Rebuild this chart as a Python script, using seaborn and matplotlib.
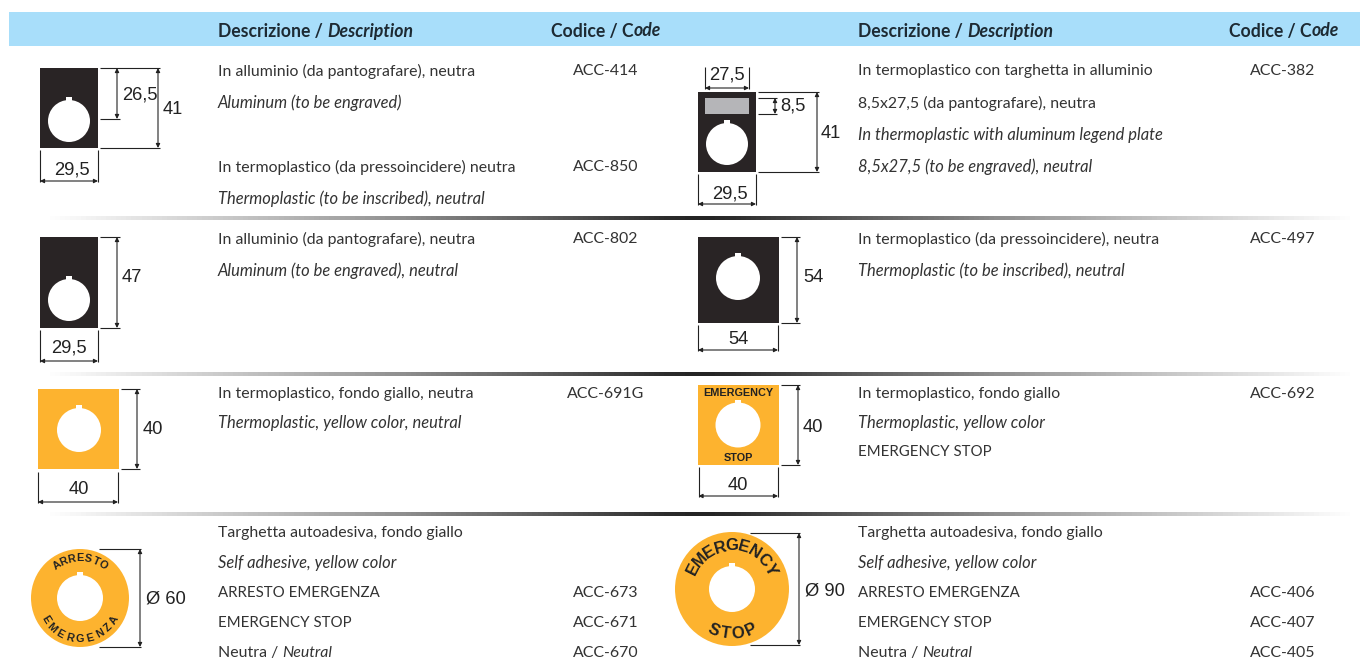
import numpy as np
import matplotlib.pyplot as plt
import seaborn as sns
from matplotlib.colors import LinearSegmentedColormap
from matplotlib.patches import Circle, Rectangle

HEADER_DESC = ["Descrizione / ", "Description"]
HEADER_CODE = ["Codice / C", "ode"]

LEFT_LINES = [
    "In alluminio (da pantografare), neutra",
    "Aluminum (to be engraved)",
    "In termoplastico (da pressoincidere) neutra",
    "Thermoplastic (to be inscribed), neutral",
    "In alluminio (da pantografare), neutra",
    "Aluminum (to be engraved), neutral",
    "In termoplastico, fondo giallo, neutra",
    "Thermoplastic, yellow color, neutral",
    "Targhetta autoadesiva, fondo giallo",
    "Self adhesive, yellow color",
    "ARRESTO EMERGENZA",
    "EMERGENCY STOP",
]
LEFT_ITALIC = [0, 1, 0, 1, 0, 1, 0, 1, 0, 1, 0, 0]
LEFT_Y = [70, 102, 166, 198, 238, 270, 393, 422, 532, 562, 592, 622]

RIGHT_LINES = [
    "In termoplastico con targhetta in alluminio",
    "8,5x27,5 (da pantografare), neutra",
    "In thermoplastic with aluminum legend plate",
    "8,5x27,5 (to be engraved), neutral",
    "In termoplastico (da pressoincidere), neutra",
    "Thermoplastic (to be inscribed), neutral",
    "In termoplastico, fondo giallo",
    "Thermoplastic, yellow color",
    "EMERGENCY STOP",
    "Targhetta autoadesiva, fondo giallo",
    "Self adhesive, yellow color",
    "ARRESTO EMERGENZA",
    "EMERGENCY STOP",
]
RIGHT_ITALIC = [0, 0, 1, 1, 0, 1, 0, 1, 0, 0, 1, 0, 0]
RIGHT_Y = [70, 102, 134, 166, 238, 270, 393, 422, 451, 532, 562, 592, 622]

LEFT_CODES = ["ACC-414", "ACC-850", "ACC-802", "ACC-691G", "ACC-673", "ACC-671", "ACC-670"]
LEFT_CODE_X = [573, 573, 573, 567, 573, 573, 573]
LEFT_CODE_Y = [70, 166, 238, 393, 592, 622, 652]
RIGHT_CODES = ["ACC-382", "ACC-497", "ACC-692", "ACC-406", "ACC-407", "ACC-405"]
RIGHT_CODE_Y = [70, 238, 393, 592, 622, 652]

NEUTRAL = ["Neutra / ", "Neutral"]
RULES_Y = [218, 374, 514]

BLUE = "#A8DEFA"
BLACK = "#292425"
YELLOW = "#FDB32F"
GREY = "#B5B5B8"
TEXT = "#333333"
LINE = "#222222"
BODY_FONT = ["Lato", "Open Sans", "DejaVu Sans"]
DIM_FONT = ["Liberation Sans", "DejaVu Sans"]
BODY_SIZE = 11.4
ITALIC_SIZE = 11.9
CAPS_SIZE = 10.8
HEAD_SIZE = 12.7

sns.set_theme(style="white")
fig = plt.figure(figsize=(13.6, 6.68), dpi=100)
ax = fig.add_axes([0, 0, 1, 1])
ax.set_xlim(0, 1360)
ax.set_ylim(668, 0)
ax.axis("off")


def body(x, y, s, italic=False, weight="normal", size=BODY_SIZE, color=TEXT):
    return ax.text(x, y + 1, s, family=BODY_FONT, style="italic" if italic else "normal",
                   weight=weight, fontsize=size, color=color, va="center", ha="left")


def line_size(s, italic):
    if italic:
        return ITALIC_SIZE
    return CAPS_SIZE if s.isupper() else BODY_SIZE


def body_pair(x, y, parts, weight="normal", size=BODY_SIZE, color=TEXT):
    # seconda parte in corsivo, subito dopo la prima
    first = body(x, y, parts[0], False, weight, size, color)
    fig.canvas.draw()
    x2 = ax.transData.inverted().transform(first.get_window_extent().max)[0]
    body(x2, y, parts[1], True, weight, size, color)


def hline(x0, x1, y):
    ax.plot([x0, x1], [y, y], color=LINE, lw=0.8, solid_capstyle="butt")


def vline(x, y0, y1):
    ax.plot([x, x], [y0, y1], color=LINE, lw=0.8, solid_capstyle="butt")


def arrow(x0, y0, x1, y1):
    ax.annotate("", xy=(x1, y1), xytext=(x0, y0),
                arrowprops=dict(arrowstyle="<|-|>", color=LINE, lw=0.8, mutation_scale=6,
                                shrinkA=0, shrinkB=0))


def dim_text(x, y, s, size=13.2):
    ax.text(x, y, s, family=DIM_FONT, fontsize=size, color="#222222", ha="center", va="center")


def hole(cx, cy, r):
    ax.add_patch(Circle((cx, cy), r, color="white", lw=0, zorder=3))
    ax.add_patch(Rectangle((cx - 3, cy - r - 3), 6, 5, color="white", lw=0, zorder=3))


def plate(x0, x1, y0, y1, cx, cy, r, color=BLACK):
    ax.add_patch(Rectangle((x0, y0), x1 - x0, y1 - y0, color=color, lw=0, zorder=2))
    hole(cx, cy, r)


def v_dim(x0, x1, y0, y1, xa, label, xl, yl):
    # quota verticale con linee di richiamo
    hline(x0, x1, y0)
    hline(x0, x1, y1)
    arrow(xa, y0, xa, y1)
    dim_text(xl, yl, label)


def h_dim(x0, x1, y0, y1, label, xl, yl):
    # quota orizzontale con linee di richiamo
    vline(x0, y0, y1)
    vline(x1, y0, y1)
    arrow(x0, y1 - 1, x1, y1 - 1)
    dim_text(xl, yl, label)


def arc_text(cx, cy, radius, s, span, size, top=True):
    # lettere ruotate una a una lungo la corona
    angles = np.linspace(-span, span, len(s))
    for ch, a in zip(s, angles):
        t = np.radians(a)
        if top:
            px, py, rot = cx + radius * np.sin(t), cy - radius * np.cos(t), -a
        else:
            px, py, rot = cx + radius * np.sin(t), cy + radius * np.cos(t), a
        ax.text(px, py, ch, family=DIM_FONT, weight="bold", fontsize=size, color="#222222",
                rotation=rot, rotation_mode="anchor", ha="center", va="center", zorder=4)


# fascia di intestazione
ax.add_patch(Rectangle((9, 12), 1351, 34, color=BLUE, lw=0))
HEAD = "#1d2a33"
body_pair(218, 30, HEADER_DESC, "bold", HEAD_SIZE, HEAD)
body_pair(858, 30, HEADER_DESC, "bold", HEAD_SIZE, HEAD)
body_pair(551, 30, HEADER_CODE, "bold", HEAD_SIZE, HEAD)
body_pair(1229, 30, HEADER_CODE, "bold", HEAD_SIZE, HEAD)

# filetti sfumati fra le righe
rule_cmap = LinearSegmentedColormap.from_list(
    "rule", sns.blend_palette(["white", "#9a9a9a", "#1f1f1f", "#9a9a9a", "white"], 64))
gradient = np.linspace(0, 1, 260).reshape(1, -1)
for y in RULES_Y:
    rule_ax = fig.add_axes([40 / 1360, 1 - (y + 2) / 668, 1320 / 1360, 4 / 668])
    sns.heatmap(gradient, cmap=rule_cmap, cbar=False, xticklabels=False, yticklabels=False,
                vmin=0, vmax=1, ax=rule_ax)

# descrizioni e codici
for s, y, it in zip(LEFT_LINES, LEFT_Y, LEFT_ITALIC):
    body(218, y, s, bool(it), size=line_size(s, it))
for s, y, it in zip(RIGHT_LINES, RIGHT_Y, RIGHT_ITALIC):
    body(858, y, s, bool(it), size=line_size(s, it))
for s, x, y in zip(LEFT_CODES, LEFT_CODE_X, LEFT_CODE_Y):
    body(x, y, s)
for s, y in zip(RIGHT_CODES, RIGHT_CODE_Y):
    body(1250, y, s)
body_pair(218, 652, NEUTRAL)
body_pair(858, 652, NEUTRAL)

# riga 1, sinistra
plate(40, 98, 68, 148, 69, 121, 21)
v_dim(100, 160, 68, 148, 158, "41", 173, 110)
hline(100, 120, 119)
arrow(117, 68, 117, 119)
dim_text(140, 95, "26,5")
h_dim(40, 98, 150, 182, "29,5", 72, 170)

# riga 1, destra
plate(698, 756, 92, 172, 727, 144, 21)
ax.add_patch(Rectangle((705, 98), 44, 16, color=GREY, lw=0, zorder=3))
h_dim(705, 749, 67, 89, "27,5", 727, 75)
v_dim(758, 819, 92, 172, 817, "41", 831, 134)
hline(758, 777, 98)
hline(758, 777, 114)
arrow(775, 98, 775, 114)
dim_text(793, 106, "8,5")
h_dim(698, 756, 174, 205, "29,5", 730, 194)

# riga 2
plate(40, 98, 237, 328, 69, 300, 21)
v_dim(100, 120, 237, 328, 117, "47", 132, 278)
h_dim(40, 98, 330, 362, "29,5", 69, 348)
plate(698, 779, 237, 323, 738, 278, 22)
v_dim(781, 800, 237, 323, 797, "54", 813, 278)
h_dim(698, 778, 325, 351, "54", 738, 339)

# riga 3
plate(38, 119, 389, 469, 79, 430, 22, YELLOW)
v_dim(121, 140, 389, 469, 137, "40", 153, 430)
h_dim(38, 118, 472, 503, "40", 79, 489)
plate(698, 779, 385, 465, 738, 425, 22.5, YELLOW)
ax.text(738, 393, "EMERGENCY", family=DIM_FONT, weight="bold", fontsize=7.8, color="#222222",
        ha="center", va="center", zorder=4)
ax.text(738, 458, "STOP", family=DIM_FONT, weight="bold", fontsize=7.8, color="#222222",
        ha="center", va="center", zorder=4)
v_dim(781, 800, 385, 465, 798, "40", 813, 427)
h_dim(698.5, 778, 467, 497, "40", 738, 486)

# riga 4, adesivi rotondi
ax.add_patch(Circle((80, 598), 49, color=YELLOW, lw=0, zorder=2))
hole(80, 598, 23)
arc_text(80, 598, 40, "ARRESTO", 35, 7.8)
arc_text(80, 598, 41, "EMERGENZA", 58, 7.8, top=False)
v_dim(99, 141, 549, 647, 140, "Ø 60", 166, 599)

ax.add_patch(Circle((732, 589), 57, color=YELLOW, lw=0, zorder=2))
hole(732, 589, 23)
arc_text(732, 589, 43, "EMERGENCY", 63, 12)
arc_text(732, 589, 45, "STOP", 25, 12, top=False)
v_dim(750, 800, 533, 645, 799, "Ø 90", 825, 591)

fig.savefig("out.png", dpi=100)
